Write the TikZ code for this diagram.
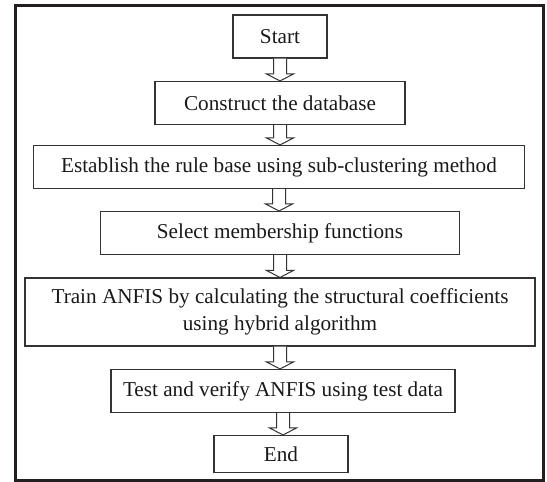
\documentclass[tikz,border=0pt]{standalone}
\usepackage{fontspec}
\setmainfont{Liberation Serif}
\usetikzlibrary{calc}
\definecolor{framec}{HTML}{231F20}
\definecolor{boxc}{HTML}{333333}
\tikzset{
  stepbox/.style={draw=boxc, line width=1.1pt, rectangle, align=center, inner sep=0pt,
    font=\fontsize{21.2}{27}\selectfont, text=black!90},
  conn/.style={draw=boxc, line width=1pt, fill=white, line join=miter},
}
\newcommand{\harrow}[2]{%
  \coordinate (tip) at (#2.north -| #1.south);
  \draw[conn] ($(#1.south)+(-6.5pt,0pt)$) -- ($(tip)+(-6.5pt,7pt)$)
    -- ($(tip)+(-13.5pt,7pt)$) -- (tip)
    -- ($(tip)+(13.5pt,7pt)$) -- ($(tip)+(6.5pt,7pt)$)
    -- ($(#1.south)+(6.5pt,0pt)$);}
\begin{document}
\begin{tikzpicture}[x=1pt,y=-1pt]
\useasboundingbox (0,0) rectangle (547,482);
\node[draw=framec, line width=3pt, minimum width=528pt, minimum height=475pt, inner sep=0pt] (frame) at (279,242.5) {};
\node[stepbox, minimum width=94pt, minimum height=43pt] (start) at (280,36.5) {Start};
\node[stepbox, minimum width=250pt, minimum height=43pt] (construct) at (280,103) {Construct the database};
\node[stepbox, minimum width=491pt, minimum height=43pt] (rule) at (279,167) {Establish the rule base using sub-clustering method};
\node[stepbox, minimum width=359pt, minimum height=43pt] (select) at (280,233) {Select membership functions};
\node[stepbox, minimum width=510pt, minimum height=68pt] (train) at (280,312) {Train ANFIS by calculating the structural coefficients\\using hybrid algorithm};
\node[stepbox, minimum width=344pt, minimum height=43pt] (test) at (283,391) {Test and verify ANFIS using test data};
\node[stepbox, minimum width=134pt, minimum height=37pt] (end) at (281,454) {End};
\harrow{start}{construct}
\harrow{construct}{rule}
\harrow{rule}{select}
\harrow{select}{train}
\harrow{train}{test}
\harrow{test}{end}
\end{tikzpicture}
\end{document}
